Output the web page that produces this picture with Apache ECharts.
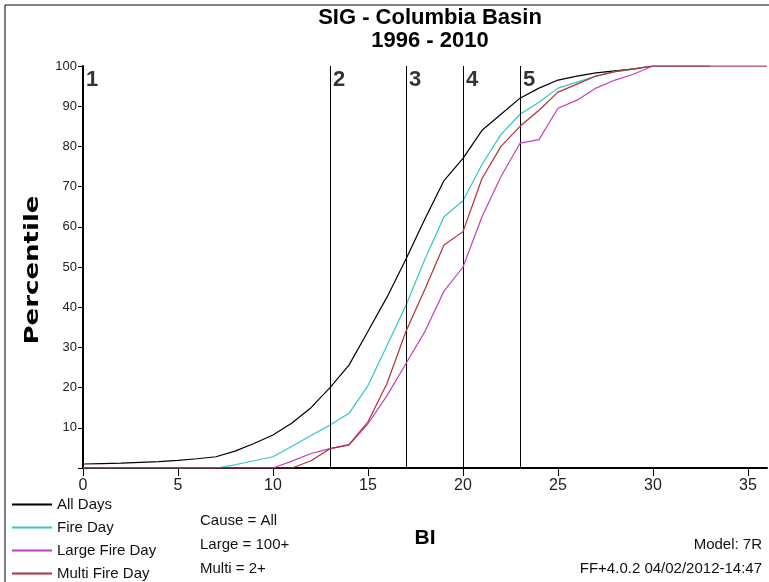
<!DOCTYPE html>
<html>
<head>
<meta charset="utf-8">
<script src="https://cdn.jsdelivr.net/npm/echarts@6/dist/echarts.min.js"></script>
<style>
  html, body { margin: 0; padding: 0; background: #fff; }
  #chart { width: 769px; height: 582px; }
</style>
</head>
<body>
<div id="chart"></div>
<script>
// BI values (x) for each point
const biValues = [0, 1, 2, 3, 4, 5, 6, 7, 8, 9, 10, 11, 12, 13, 14, 15, 16, 17, 18, 19, 20,
  21, 22, 23, 24, 25, 26, 27, 28, 29, 30, 31, 32, 33, 34, 35, 36]

// percentile curves (index = BI)
const allDays = [1.0, 1.1, 1.2, 1.4, 1.6, 1.9, 2.3, 2.8, 4.2, 6.1, 8.2, 11.2, 15, 20, 25.6, 34, 42.5,
  52, 62, 71.5, 77, 84, 88, 92, 94.5, 96.5, 97.5, 98.3, 98.8, 99.3, 100, 100, 100, 100]
const fireDay = [0, 0, 0, 0, 0, 0, 0, 0, 0.8, 1.8, 2.8, 5.4, 8.1, 10.7, 13.6, 20.5, 30.5,
  40.5, 52, 62.5, 66.5, 75.5, 83, 88, 91, 94.5, 96, 97.5, 98.6, 99.2, 100, 100]
const largeFireDay = [0, 0, 0, 0, 0, 0, 0, 0, 0, 0, 0, 1.7, 3.6, 4.8, 5.7, 11, 18,
  26, 34, 44, 50, 62.5, 72.5, 80.8, 81.7, 89.5, 91.5, 94.5, 96.5, 98, 100, 100, 100, 100, 100, 100, 100]
const multiFireDay = [0, 0, 0, 0, 0, 0, 0, 0, 0, 0, 0, 0, 1.8, 4.8, 5.8, 11.5, 21,
  34, 44.5, 55.5, 58.8, 72, 80, 85, 89, 93.5, 95.5, 97.5, 98.6, 99.3, 100, 100, 100, 100, 100, 100, 100]

// class break lines and their labels
const breakBI = [0, 13, 17, 20, 23]
const breakLabels = ['1', '2', '3', '4', '5']
const breakLabelY = 96.5

const seriesNames = ['All Days', 'Fire Day', 'Large Fire Day', 'Multi Fire Day']
const seriesColors = ['#000000', '#33c6c6', '#c040c0', '#b03038']

const xTicks = [0, 5, 10, 15, 20, 25, 30, 35]
const yTicks = [10, 20, 30, 40, 50, 60, 70, 80, 90, 100]

const noteLines = ['Cause = All', 'Large = 100+', 'Multi = 2+']
const modelText = 'Model: 7R'
const stampText = 'FF+4.0.2 04/02/2012-14:47'

const sans = "'Liberation Sans', Arial, sans-serif"

const toPairs = (vals) => vals.map((v, i) => [biValues[i], v])

const chart = echarts.init(document.getElementById('chart'), null, { renderer: 'canvas' })

const curveSeries = [allDays, fireDay, largeFireDay, multiFireDay].map((vals, i) => ({
  name: seriesNames[i],
  type: 'line',
  data: toPairs(vals),
  symbol: 'none',
  lineStyle: { width: 1.2, color: seriesColors[i] },
  itemStyle: { color: seriesColors[i] },
  z: 3 + i
}))

const option = {
  animation: false,
  backgroundColor: '#ffffff',
  title: {
    text: 'SIG - Columbia Basin\n1996 - 2010',
    left: 425,
    top: 1,
    textAlign: 'center',
    textStyle: {
      fontFamily: sans,
      fontWeight: 'bold',
      fontSize: 22,
      lineHeight: 23,
      color: '#000'
    }
  },
  legend: {
    orient: 'vertical',
    left: 12,
    top: 496,
    height: 120,
    padding: 0,
    itemGap: 6,
    itemWidth: 40,
    itemHeight: 2,
    icon: 'rect',
    data: seriesNames.map((n, i) => ({ name: n, itemStyle: { color: seriesColors[i] } })),
    textStyle: { fontFamily: sans, fontSize: 15, color: '#111', lineHeight: 17 }
  },
  grid: { left: 83, right: 2, top: 66, bottom: 114 },
  xAxis: {
    type: 'value',
    min: 0,
    max: 36,
    interval: 5,
    name: 'BI',
    nameLocation: 'middle',
    nameGap: 60,
    nameTextStyle: { fontFamily: sans, fontWeight: 'bold', fontSize: 21, color: '#000' },
    axisLine: { lineStyle: { color: '#000', width: 2 } },
    axisTick: { length: 8, lineStyle: { color: '#000' } },
    axisLabel: {
      showMaxLabel: false,
      fontFamily: sans,
      fontSize: 16,
      color: '#222',
      margin: 10,
      formatter: (v) => (xTicks.includes(v) ? String(v) : '')
    },
    splitLine: { show: false }
  },
  yAxis: {
    type: 'value',
    min: 0,
    max: 100,
    interval: 10,
    axisLine: { show: true, lineStyle: { color: '#000', width: 2 } },
    axisTick: { show: true, length: 5, lineStyle: { color: '#000' } },
    axisLabel: {
      fontFamily: sans,
      fontSize: 13,
      color: '#222',
      margin: 6,
      formatter: (v) => (yTicks.includes(v) ? String(v) : '')
    },
    splitLine: { show: false }
  },
  graphic: [
    {
      type: 'rect',
      shape: { x: 5, y: 5, width: 780, height: 600 },
      style: { fill: 'none', stroke: '#000', lineWidth: 1 },
      silent: true
    },
    {
      // y axis title, stretched along its length like the original
      type: 'text',
      x: 33,
      y: 270,
      rotation: Math.PI / 2,
      scaleX: 1.3,
      style: {
        text: 'Percentile',
        fontFamily: 'DejaVu Sans, sans-serif',
        fontWeight: 'bold',
        fontSize: 20,
        fill: '#000',
        textAlign: 'center',
        textVerticalAlign: 'middle'
      }
    },
    ...noteLines.map((t, i) => ({
      type: 'text',
      left: 200,
      top: 513 + i * 24,
      style: { text: t, fontFamily: sans, fontSize: 15, fill: '#111' }
    })),
    {
      type: 'text',
      right: 7,
      top: 537,
      style: { text: modelText, fontFamily: sans, fontSize: 15, fill: '#111', textAlign: 'right' }
    },
    {
      type: 'text',
      right: 7,
      top: 561,
      style: { text: stampText, fontFamily: sans, fontSize: 15, fill: '#111', textAlign: 'right' }
    }
  ],
  series: [
    ...curveSeries,
    {
      name: 'breaks',
      type: 'scatter',
      data: breakBI.map((b, i) => ({ value: [b, breakLabelY], name: breakLabels[i] })),
      symbolSize: 0,
      silent: true,
      z: 10,
      label: {
        show: true,
        position: 'right',
        distance: 3,
        formatter: (p) => p.name,
        fontFamily: sans,
        fontWeight: 'bold',
        fontSize: 22,
        color: '#000'
      },
      markLine: {
        silent: true,
        symbol: 'none',
        label: { show: false },
        lineStyle: { color: '#000', width: 1, type: 'solid' },
        data: breakBI.slice(1).map((b) => ({ xAxis: b }))
      }
    }
  ]
}

chart.setOption(option)
</script>
</body>
</html>
